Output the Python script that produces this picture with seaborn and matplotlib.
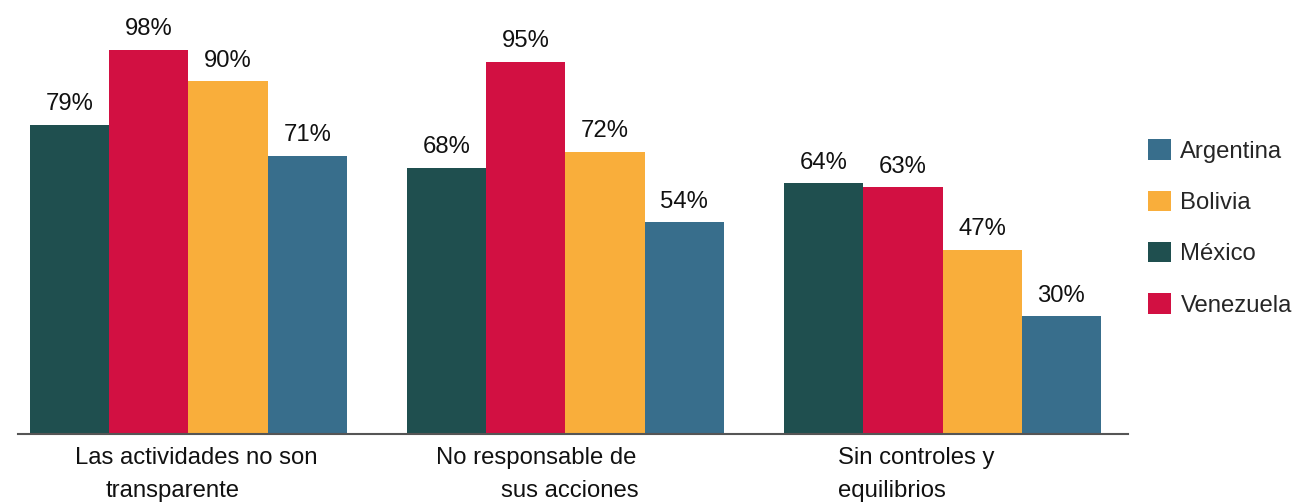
import matplotlib
matplotlib.use("Agg")
import matplotlib.pyplot as plt
from matplotlib.patches import Patch
import seaborn as sns
import pandas as pd

categories = ["Las actividades no son transparente",
              "No responsable de sus acciones",
              "Sin controles y equilibrios"]
label_line1 = ["Las actividades no son", "No responsable de", "Sin controles y"]
label_line2 = ["transparente", "sus acciones", "equilibrios"]
countries = ["México", "Venezuela", "Bolivia", "Argentina"]
mexico = [79, 68, 64]
venezuela = [98, 95, 63]
bolivia = [90, 72, 47]
argentina = [71, 54, 30]
legend_order = ["Argentina", "Bolivia", "México", "Venezuela"]
colors = {"México": "#1f4f4f", "Venezuela": "#d21042",
          "Bolivia": "#f9ae3b", "Argentina": "#386e8c"}

rows = []
for country, vals in zip(countries, [mexico, venezuela, bolivia, argentina]):
    for cat, v in zip(categories, vals):
        rows.append({"cat": cat, "country": country, "value": v})
df = pd.DataFrame(rows)

sns.set_style("white")
plt.rcParams["font.family"] = ["Liberation Sans", "DejaVu Sans"]

FS = 17.2
fig = plt.figure(figsize=(13.05, 5.03), dpi=100)
ax = fig.add_axes([0.0138, 0.1372, 0.8506, 0.8628])

sns.barplot(data=df, x="cat", y="value", hue="country", order=categories,
            hue_order=countries, palette=colors, width=0.84, saturation=1,
            linewidth=0, legend=False, ax=ax)

for cont in ax.containers:
    ax.bar_label(cont, labels=[f"{int(v)}%" for v in cont.datavalues],
                 padding=7, fontsize=FS, color="#111111")

ax.set_xlim(-0.452, 2.492)
ax.set_ylim(0, 110.8)
ax.set_yticks([])
ax.set_xticks([])
ax.set_xlabel("")
ax.set_ylabel("")
for s in ["left", "right", "top"]:
    ax.spines[s].set_visible(False)
ax.spines["bottom"].set_color("#555555")
ax.spines["bottom"].set_linewidth(1.5)

# two-line category labels with the reference's irregular alignment
offs1 = [0.020, -0.078, 0.0]
offs2 = [-0.041, 0.012, 0.0]
trans = ax.get_xaxis_transform()
for i in range(len(categories)):
    if i == 2:
        ax.text(i - 0.278, -0.056, label_line1[i], transform=trans, ha="left",
                va="center", fontsize=FS, color="#111111")
        ax.text(i - 0.278, -0.132, label_line2[i], transform=trans, ha="left",
                va="center", fontsize=FS, color="#111111")
    else:
        ax.text(i + offs1[i], -0.056, label_line1[i], transform=trans,
                ha="center", va="center", fontsize=FS, color="#111111")
        ax.text(i + offs2[i], -0.132, label_line2[i], transform=trans,
                ha="center", va="center", fontsize=FS, color="#111111")

handles = [Patch(facecolor=colors[c], edgecolor="none", label=c) for c in legend_order]
fig.legend(handles=handles, loc="upper left", bbox_to_anchor=(0.8725, 0.742),
           frameon=False, fontsize=FS, handlelength=0.95, handleheight=0.95,
           handletextpad=0.4, labelspacing=1.16, borderaxespad=0)

fig.savefig("out.png", dpi=100)
